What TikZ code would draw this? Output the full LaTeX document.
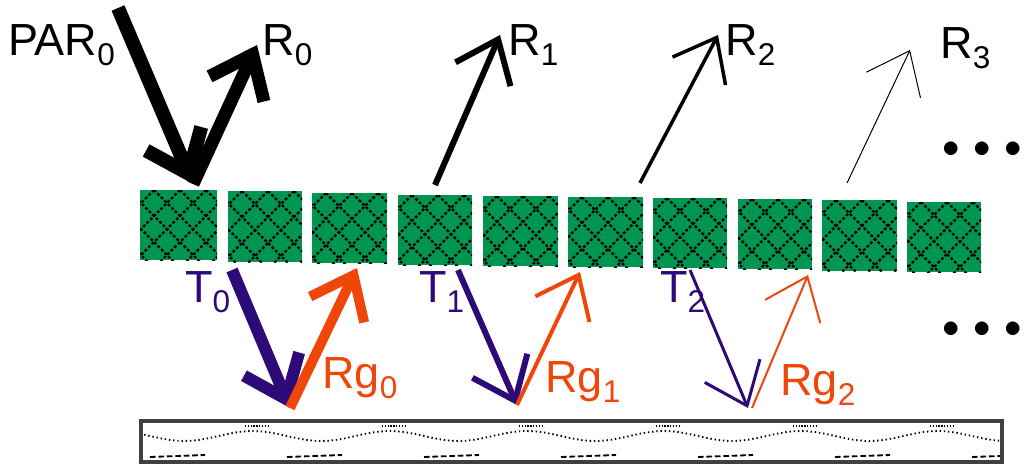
\documentclass[tikz,border=0pt]{standalone}
\usepackage{fontspec}
\setmainfont{Liberation Sans}
\usetikzlibrary{arrows.meta}
\definecolor{leaf}{RGB}{0,150,80}
\definecolor{tcol}{RGB}{45,10,120}
\definecolor{rcol}{RGB}{240,70,10}
\begin{document}
\begin{tikzpicture}[x=0.025cm,y=-0.025cm,
  ar/.style={line width=#1*0.71pt,-{Straight Barb[length=38*0.71pt,width=60*0.71pt]}},
  lbl/.style={font=\fontsize{32}{36}\selectfont,inner sep=0pt},
  tile/.style={fill=leaf}]
\useasboundingbox (0,0) rectangle (1024,473);
% tiles
\foreach \xa/\xb/\ya/\yb [count=\i] in {140/217/190/260,228/302/191/262,312/387/193/263,398/472/195/265,483/558/196/266,568/643/197/267,653/727/198/268,738/812/199/269,822/897/200/271,907/981/202/272}{
  \node[draw=none,fill=none,inner sep=0pt] (tile\i) at ({(\xa+\xb)/2},{(\ya+\yb)/2}) {};
  \begin{scope}
  \clip (\xa,\ya) rectangle (\xb,\yb);
  \fill[leaf] (\xa,\ya) rectangle (\xb,\yb);
  \foreach \k in {-4,...,8}{
    \draw[black,line width=1.6pt,dash pattern=on 2pt off 1.5pt] (\xa+\k*26-12,\ya) -- ++(90,90);
    \draw[black,line width=1.6pt,dash pattern=on 2pt off 1.5pt] (\xa+\k*26-12,\ya) -- ++(-90,90);
  }
  \end{scope}}
% ground
\node[draw=black!75,line width=3.5pt,minimum width=861*0.025cm,minimum height=41*0.025cm,inner sep=0pt] (ground) at (571.5,441.5) {};
\begin{scope}
\clip (143,423) rectangle (1000,460);
\draw[line width=1.3pt,dash pattern=on 1pt off 2pt,domain=140:1003,samples=120] plot (\x,{436+5*sin((\x-150)/137*360)});
\foreach \s in {150,287,424,561,698,835,972}{
  \draw[line width=1.3pt,dash pattern=on 4pt off 2pt] (\s,457) -- ++(55,-2);
  \draw[line width=1.5pt,dash pattern=on 1pt off 1pt] (\s+95,426) -- ++(25,0);
}
\end{scope}
% points
\coordinate (p0) at (193,184); \coordinate (s0) at (118,8); \coordinate (e0) at (257,45);
\coordinate (p1) at (435,185); \coordinate (e1) at (500,35);
\coordinate (p2) at (640,183); \coordinate (e2) at (718,35);
\coordinate (p3) at (847,183); \coordinate (e3) at (910,50);
\draw[ar=14] (s0) -- (p0);
\draw[ar=13] (p0) -- (e0);
\draw[ar=6] (p1) -- (e1);
\draw[ar=3.5] (p2) -- (e2);
\draw[ar=1] (p3) -- (e3);
\coordinate (t0) at (232,270); \coordinate (g0) at (290,408); \coordinate (u0) at (357,268);
\coordinate (t1) at (458,270); \coordinate (g1) at (517,405); \coordinate (u1) at (580,272);
\coordinate (t2) at (690,270); \coordinate (g2) at (748,408); \coordinate (h2) at (752,408); \coordinate (u2) at (808,275);
\draw[ar=12,tcol] (t0) -- (g0);
\draw[ar=10,rcol] (g0) -- (u0);
\draw[ar=6,tcol] (t1) -- (g1);
\draw[ar=4,rcol] (g1) -- (u1);
\draw[ar=3,tcol] (t2) -- (g2);
\draw[ar=2,rcol] (h2) -- (u2);
% labels
\node[lbl] (lpar) at (62,45) {PAR$_{\mathrm{0}}$};
\node[lbl,anchor=west] (lr0) at (262,45) {R$_{\mathrm{0}}$};
\node[lbl,anchor=west] (lr1) at (508,45) {R$_{\mathrm{1}}$};
\node[lbl,anchor=west] (lr2) at (725,45) {R$_{\mathrm{2}}$};
\node[lbl,anchor=west] (lr3) at (940,48) {R$_{\mathrm{3}}$};
\node[lbl,tcol] (lt0) at (208,292) {T$_{\mathrm{0}}$};
\node[lbl,tcol] (lt1) at (442,292) {T$_{\mathrm{1}}$};
\node[lbl,tcol] (lt2) at (683,292) {T$_{\mathrm{2}}$};
\node[lbl,rcol,anchor=west] (lg0) at (322,378) {Rg$_{\mathrm{0}}$};
\node[lbl,rcol,anchor=west] (lg1) at (545,382) {Rg$_{\mathrm{1}}$};
\node[lbl,rcol,anchor=west] (lg2) at (780,385) {Rg$_{\mathrm{2}}$};
\node[lbl] (d1) at (982,150) {$\bullet\,\bullet\,\bullet$};
\node[lbl] (d2) at (982,330) {$\bullet\,\bullet\,\bullet$};
\end{tikzpicture}
\end{document}
